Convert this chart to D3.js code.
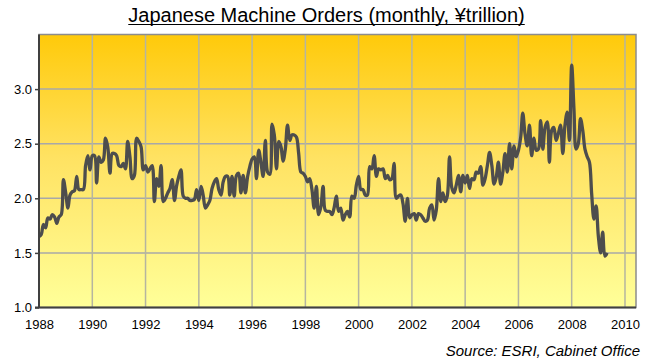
<!DOCTYPE html>
<html>
<head>
<meta charset="utf-8">
<script src="https://cdn.jsdelivr.net/npm/d3@7"></script>
<style>
  body { margin: 0; background: #fff; }
  svg { display: block; font-family: Arial, "Liberation Sans", sans-serif; }
</style>
</head>
<body>
<svg id="chart" width="653" height="364"></svg>
<script>
// monthly orders, ¥trillion, starting Jan 1988
const orders1988_1991 = [1.65, 1.67, 1.76, 1.73, 1.82, 1.81, 1.85, 1.83, 1.77, 1.83, 1.85, 2.17,
  2.05, 1.91, 2.03, 2.06, 2.07, 2.20, 2.08, 2.08, 2.08, 2.30, 2.39, 2.26,
  2.39, 2.39, 2.14, 2.38, 2.33, 2.35, 2.55, 2.47, 2.23, 2.41, 2.41, 2.39,
  2.30, 2.29, 2.32, 2.27, 2.52, 2.38, 2.18, 2.21, 2.55, 2.52, 2.47, 2.26]
const orders1992_1995 = [2.30, 2.24, 2.27, 2.30, 1.97, 2.18, 2.11, 2.30, 1.97, 2.00, 2.05, 2.09,
  2.17, 1.98, 2.11, 2.20, 2.26, 2.02, 2.00, 2.00, 1.98, 1.98, 1.99, 2.08,
  1.98, 2.11, 2.03, 1.91, 1.94, 1.98, 2.09, 2.15, 2.18, 2.08, 2.03, 2.15,
  2.20, 2.20, 2.03, 2.20, 2.02, 2.21, 2.23, 2.05, 2.21, 2.05, 2.20, 2.29]
const orders1996_1999 = [2.36, 2.38, 2.18, 2.44, 2.33, 2.20, 2.53, 2.24, 2.22, 2.68, 2.58, 2.27,
  2.52, 2.47, 2.34, 2.45, 2.67, 2.53, 2.58, 2.58, 2.56, 2.41, 2.24, 2.23,
  2.20, 2.15, 2.18, 2.08, 1.91, 2.11, 1.85, 1.92, 2.11, 1.89, 1.88, 1.88,
  1.85, 1.92, 2.02, 1.88, 1.91, 1.80, 1.85, 1.88, 1.83, 2.02, 2.00, 2.12]
const orders2000_2003 = [2.20, 2.08, 2.08, 2.03, 2.03, 2.29, 2.27, 2.39, 2.20, 2.27, 2.26, 2.27,
  2.18, 2.21, 2.17, 2.18, 2.32, 2.00, 2.02, 2.03, 1.95, 1.79, 2.00, 1.82,
  1.85, 1.86, 1.80, 1.86, 1.85, 1.82, 1.79, 1.80, 1.91, 1.94, 1.80, 1.89,
  2.18, 1.97, 2.05, 1.97, 2.02, 2.38, 2.10, 2.05, 2.12, 2.21, 2.06, 2.21]
const orders2004_2007 = [2.14, 2.21, 2.09, 2.18, 2.17, 2.24, 2.23, 2.29, 2.12, 2.18, 2.30, 2.42,
  2.30, 2.13, 2.19, 2.33, 2.13, 2.24, 2.41, 2.24, 2.50, 2.27, 2.48, 2.38,
  2.44, 2.56, 2.78, 2.59, 2.48, 2.67, 2.39, 2.55, 2.44, 2.45, 2.71, 2.45,
  2.65, 2.70, 2.33, 2.62, 2.65, 2.53, 2.59, 2.67, 2.41, 2.67, 2.79, 2.53]
const orders2008_2009 = [3.22, 2.82, 2.45, 2.50, 2.73, 2.62, 2.45, 2.38, 2.33, 2.04, 1.81, 1.93,
  1.65, 1.50, 1.69, 1.47, 1.50]

const yTicks = [1.0, 1.5, 2.0, 2.5, 3.0]
const xTickYears = [1988, 1990, 1992, 1994, 1996, 1998, 2000, 2002, 2004, 2006, 2008, 2010]

const titleText = 'Japanese Machine Orders (monthly, ¥trillion)'
const sourceText = 'Source: ESRI, Cabinet Office'

let width = 653
let height = 364
let plot = {left: 39, right: 636, top: 34.5, bottom: 307.5}

let svg = d3.select('#chart')

let data = [].concat(orders1988_1991, orders1992_1995, orders1996_1999,
  orders2000_2003, orders2004_2007, orders2008_2009)
  .map((v, i) => ({date: new Date(1988, i, 1), value: v}))

let xScale = d3.scaleTime()
  .domain([new Date(1988, 0, 1), new Date(2010, 5, 1)])
  .range([plot.left, plot.right])

let yScale = d3.scaleLinear()
  .domain([1, 3.5])
  .range([plot.bottom, plot.top])

// background gradient of plot area
let grad = svg.append('defs').append('linearGradient')
  .attr('id', 'bg')
  .attr('x1', 0).attr('y1', 0).attr('x2', 0).attr('y2', 1)
grad.append('stop').attr('offset', '0%').attr('stop-color', '#FFCA0A')
grad.append('stop').attr('offset', '45%').attr('stop-color', '#FFE262')
grad.append('stop').attr('offset', '100%').attr('stop-color', '#FFFF99')

svg.append('rect')
  .attr('x', plot.left)
  .attr('y', plot.top)
  .attr('width', plot.right - plot.left)
  .attr('height', plot.bottom - plot.top)
  .attr('fill', 'url(#bg)')

// gridlines
svg.append('g')
  .selectAll('line')
  .data(yTicks.slice(1))
  .enter()
  .append('line')
  .attr('x1', plot.left).attr('x2', plot.right)
  .attr('y1', d => yScale(d)).attr('y2', d => yScale(d))
  .attr('stroke', '#a8a8a8')
  .attr('stroke-width', 1.5)

svg.append('g')
  .selectAll('line')
  .data(xTickYears.slice(1))
  .enter()
  .append('line')
  .attr('x1', d => xScale(new Date(d, 0, 1))).attr('x2', d => xScale(new Date(d, 0, 1)))
  .attr('y1', plot.top).attr('y2', plot.bottom)
  .attr('stroke', '#b5b5a0')
  .attr('stroke-width', 1.5)

// plot border
svg.append('rect')
  .attr('x', plot.left)
  .attr('y', plot.top)
  .attr('width', plot.right - plot.left)
  .attr('height', plot.bottom - plot.top)
  .attr('fill', 'none')
  .attr('stroke', '#8c8c8c')
  .attr('stroke-width', 1.5)

// line
let line = d3.line()
  .x(d => xScale(d.date))
  .y(d => yScale(d.value))
  .curve(d3.curveCatmullRom)

svg.append('path')
  .datum(data)
  .attr('d', line)
  .attr('fill', 'none')
  .attr('stroke', '#4d4d4d')
  .attr('stroke-width', 3.3)
  .attr('stroke-linejoin', 'round')

// axes
let yAxis = d3.axisLeft(yScale)
  .tickValues(yTicks)
  .tickFormat(d3.format('.1f'))
  .tickSize(4)
  .tickPadding(3)

let xAxis = d3.axisBottom(xScale)
  .tickValues(xTickYears.map(y => new Date(y, 0, 1)))
  .tickFormat(d3.timeFormat('%Y'))
  .tickSize(0)
  .tickPadding(12)

let gy = svg.append('g')
  .attr('transform', `translate(${plot.left},0)`)
  .call(yAxis)
gy.select('.domain').remove()
gy.append('line')
  .attr('y1', plot.top).attr('y2', plot.bottom)
  .attr('stroke', '#404040').attr('stroke-width', 2)
gy.selectAll('.tick line').attr('stroke', '#404040').attr('stroke-width', 1.5)
gy.selectAll('.tick text').attr('fill', '#000').style('font-size', '13px')

let gx = svg.append('g')
  .attr('transform', `translate(0,${plot.bottom})`)
  .call(xAxis)
gx.select('.domain').remove()
gx.append('line')
  .attr('x1', plot.left - 4).attr('x2', plot.right)
  .attr('stroke', '#404040').attr('stroke-width', 2)
gx.selectAll('.tick text').attr('fill', '#000').style('font-size', '13px')

// title
let title = svg.append('text')
  .attr('x', width / 2)
  .attr('y', 22)
  .attr('text-anchor', 'middle')
  .style('font-size', '20px')
  .attr('fill', '#000')
  .text(titleText)
let tw = title.node().getComputedTextLength()
svg.append('line')
  .attr('x1', width / 2 - tw / 2).attr('x2', width / 2 + tw / 2)
  .attr('y1', 24.5).attr('y2', 24.5)
  .attr('stroke', '#000').attr('stroke-width', 1)

// source
svg.append('text')
  .attr('x', 640)
  .attr('y', 356)
  .attr('text-anchor', 'end')
  .style('font-size', '15px')
  .style('font-style', 'italic')
  .attr('fill', '#000')
  .text(sourceText)
</script>
</body>
</html>
